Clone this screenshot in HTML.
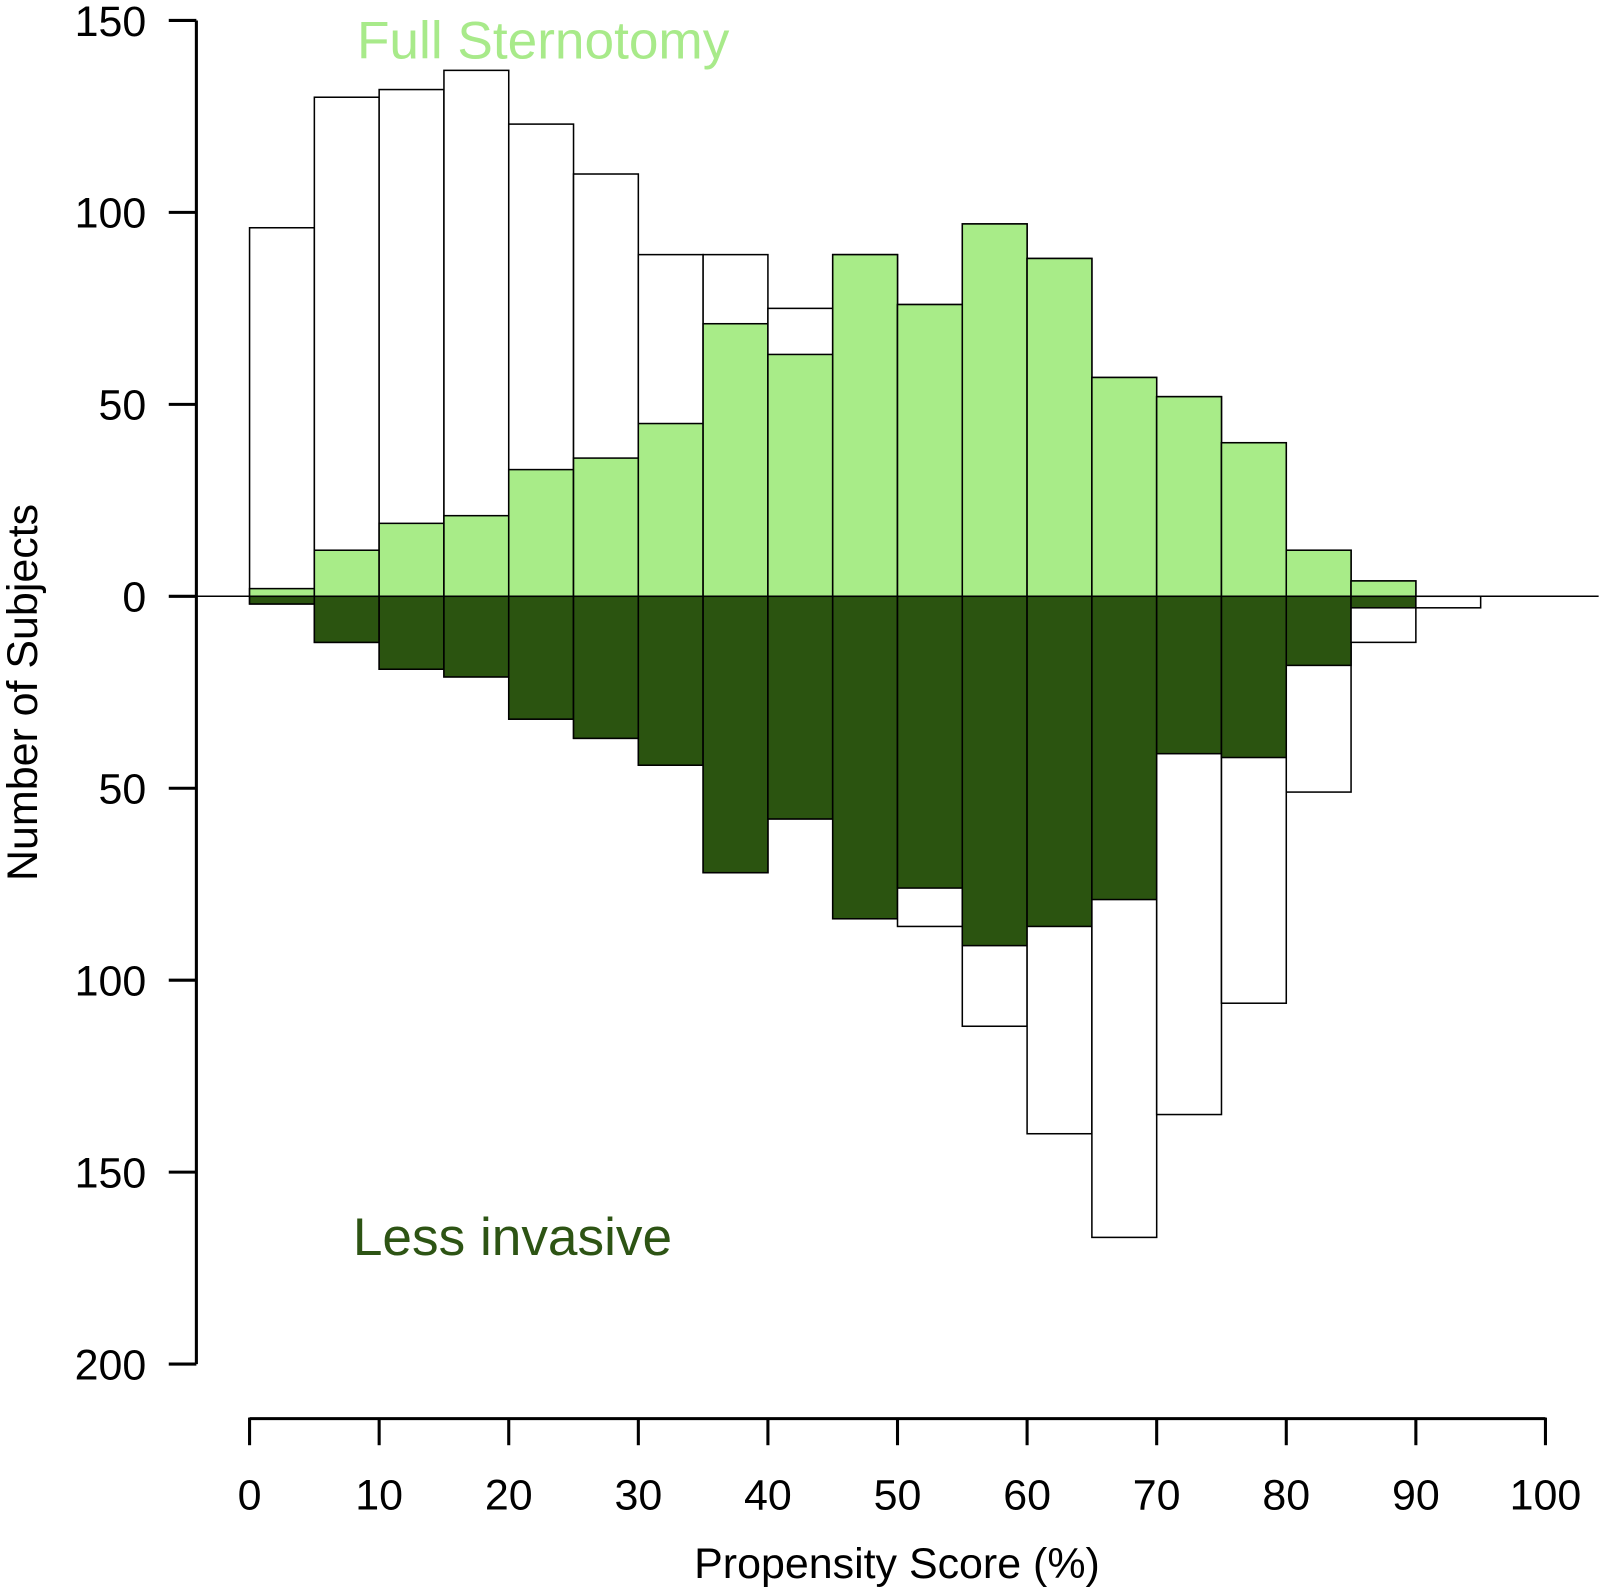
<!DOCTYPE html>
<html><head><meta charset="utf-8"><style>
html,body{margin:0;padding:0;background:#fff;}
svg{display:block;font-family:"Liberation Sans",Arial,sans-serif;}
</style></head><body>
<svg id="chart" width="1602" height="1591" viewBox="0 0 1602 1591" xmlns="http://www.w3.org/2000/svg">
<g transform="scale(1.0228)">
<g id="bars"></g>
<g id="axes"></g>
<text x="349" y="57" font-size="52" fill="#a8ea8a">Full Sternotomy</text>
<text x="345" y="1227" font-size="52" fill="#2d5414">Less invasive</text>
<text x="877" y="1543" font-size="42" text-anchor="middle">Propensity Score (%)</text>
<text transform="translate(36,677) rotate(-90)" font-size="42" text-anchor="middle">Number of Subjects</text>
</g>
</svg>
<script>
const binStarts = [0,5,10,15,20,25,30,35,40,45,50,55,60,65,70,75,80,85,90];
const topAll = [96,130,132,137,123,110,89,89,75,89,76,97,88,57,52,40,12,4,0];
const topMatched = [2,12,19,21,33,36,45,71,63,89,76,97,88,57,52,40,12,4,0];
const bottomAll = [2,12,19,21,32,37,44,72,58,84,86,112,140,167,135,106,51,12,3];
const bottomMatched = [2,12,19,21,32,37,44,72,58,84,76,91,86,79,41,42,18,3,0];
const xTicks = [0,10,20,30,40,50,60,70,80,90,100];
const yTicks = [150,100,50,0,-50,-100,-150,-200];
const binWidth = 5;

const NS = "http://www.w3.org/2000/svg";
const xs = v => 244 + v * (1511 - 244) / 100;
const ys = v => 583 - v * (583 - 20) / 150;
const bars = document.getElementById('bars');
const axes = document.getElementById('axes');
function mk(tag, attrs, parent){const e=document.createElementNS(NS,tag);for(const k in attrs)e.setAttribute(k,attrs[k]);parent.appendChild(e);return e;}
function bar(i, v, sign, fill, name){
  if(!v) return;
  const x0=xs(binStarts[i]), x1=xs(binStarts[i]+binWidth);
  const ya=ys(0), yb=ys(sign*v);
  const r=mk('rect',{x:x0,y:Math.min(ya,yb),width:x1-x0,height:Math.abs(yb-ya),fill:fill,stroke:'#000','stroke-width':1.5},bars);
  
  
}
binStarts.forEach((b,i)=>{
  bar(i, topAll[i], 1, '#fff', 'bar-top-all');
  bar(i, topMatched[i], 1, '#a8ec88', 'bar-top-matched');
  bar(i, bottomAll[i], -1, '#fff', 'bar-bottom-all');
  bar(i, bottomMatched[i], -1, '#2b5410', 'bar-bottom-matched');
});
let z=mk('line',{x1:192,x2:1563,y1:ys(0),y2:ys(0),stroke:'#000','stroke-width':1.5},axes);


let ya=mk('line',{x1:192,x2:192,y1:ys(150),y2:ys(-200),stroke:'#000','stroke-width':3},axes);


yTicks.forEach(t=>{
  const y=ys(t);
  const l=mk('line',{x1:165,x2:192,y1:y,y2:y,stroke:'#000','stroke-width':3},axes);
  
  
  const tx=mk('text',{x:143,y:y+15,'font-size':42,'text-anchor':'end'},axes);
  tx.textContent=String(Math.abs(t));
  
  
});
let xa=mk('line',{x1:xs(0),x2:xs(100),y1:1387,y2:1387,stroke:'#000','stroke-width':3},axes);


xTicks.forEach(t=>{
  const x=xs(t);
  const l=mk('line',{x1:x,x2:x,y1:1386,y2:1413,stroke:'#000','stroke-width':3},axes);
  
  
  const tx=mk('text',{x:x,y:1476,'font-size':42,'text-anchor':'middle'},axes);
  tx.textContent=String(t);
  
  
});
</script>
</body></html>
